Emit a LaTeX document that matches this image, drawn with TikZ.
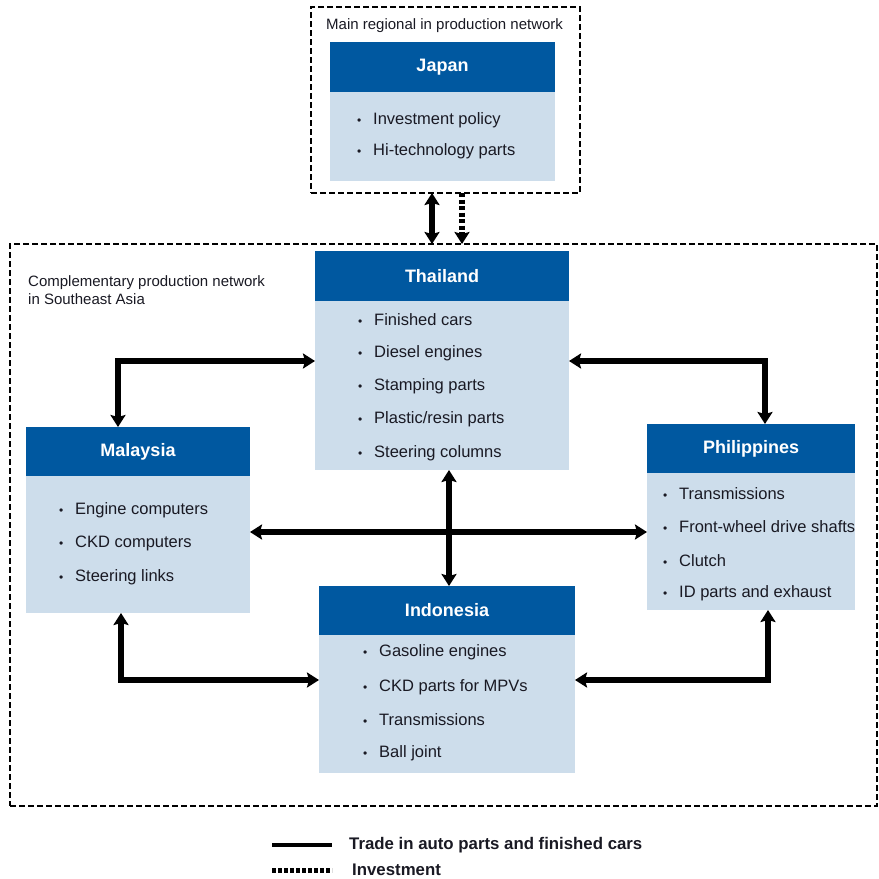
\documentclass[tikz,border=0pt]{standalone}
\usepackage{fontspec}
\setmainfont{Liberation Sans}
\usetikzlibrary{arrows.meta}
\definecolor{hdrblue}{RGB}{0,88,160}
\definecolor{bodyblue}{RGB}{205,221,235}
\definecolor{inktext}{RGB}{25,25,35}
\newcommand\itembul{{\fontsize{12}{12}\selectfont\textbullet}}
\newcommand\itm[1]{\makebox[16pt][l]{\itembul}#1}
\begin{document}
\begin{tikzpicture}[x=1pt,y=-1pt,
  hdrbox/.style={fill=hdrblue, text=white, font=\bfseries\fontsize{18}{20}\selectfont,
    inner sep=0pt, outer sep=0pt, anchor=north west},
  bodybox/.style={fill=bodyblue, inner sep=0pt, outer sep=0pt, anchor=north west},
  itemtext/.style={anchor=west, inner sep=0pt, text=inktext, font=\fontsize{16.5}{18}\selectfont},
  regionbox/.style={draw=black, line width=1.2pt, dash pattern=on 6pt off 3pt,
    inner sep=0pt, outer sep=0pt, anchor=north west},
  regionlabel/.style={anchor=west, inner sep=0pt, text=inktext, font=\fontsize{15}{18}\selectfont, align=left},
  trade/.style={line width=5.5pt,
    {Stealth[length=12pt,width=15pt,inset=2pt]}-{Stealth[length=12pt,width=15pt,inset=2pt]}},
  invest/.style={line width=5.5pt, dash pattern=on 4pt off 2.5pt,
    -{Stealth[length=12pt,width=15pt,inset=2pt]}},
  legendtext/.style={anchor=west, inner sep=0pt, text=inktext, font=\bfseries\fontsize{16.8}{18}\selectfont}
]
\useasboundingbox (0,0) rectangle (879,879);

% outer region frames
\node[regionbox, minimum width=269pt, minimum height=186pt] (jpOuter) at (311,7) {};
\node[regionbox, minimum width=867pt, minimum height=562pt] (seOuter) at (10,244) {};
\node[regionlabel] (jpLabel) at (326,26) {Main regional in production network};
\node[regionlabel] (seLabel) at (28,290) {Complementary production network\\in Southeast Asia};

% Japan
\node[hdrbox, minimum width=225pt, minimum height=50pt] (jpH) at (330,42) {Japan};
\node[bodybox, minimum width=225pt, minimum height=89pt] (jpB) at (jpH.south west) {};
\node[itemtext] (jp1) at (357,120.5) {\itm{Investment policy}};
\node[itemtext] (jp2) at (357,151.5) {\itm{Hi-technology parts}};

% Thailand
\node[hdrbox, minimum width=254pt, minimum height=50pt] (thH) at (315,251) {Thailand};
\node[bodybox, minimum width=254pt, minimum height=169pt] (thB) at (thH.south west) {};
\node[itemtext] (th1) at (358,319.5) {\itm{Finished cars}};
\node[itemtext] (th2) at (358,353.5) {\itm{Diesel engines}};
\node[itemtext] (th3) at (358,386.5) {\itm{Stamping parts}};
\node[itemtext] (th4) at (358,419.5) {\itm{Plastic/resin parts}};
\node[itemtext] (th5) at (358,453.5) {\itm{Steering columns}};

% Malaysia
\node[hdrbox, minimum width=224pt, minimum height=49pt] (myH) at (26,427) {Malaysia};
\node[bodybox, minimum width=224pt, minimum height=137pt] (myB) at (myH.south west) {};
\node[itemtext] (my1) at (59,510.5) {\itm{Engine computers}};
\node[itemtext] (my2) at (59,543.5) {\itm{CKD computers}};
\node[itemtext] (my3) at (59,577.5) {\itm{Steering links}};

% Philippines
\node[hdrbox, minimum width=208pt, minimum height=49pt] (phH) at (647,424) {Philippines};
\node[bodybox, minimum width=208pt, minimum height=137pt] (phB) at (phH.south west) {};
\node[itemtext] (ph1) at (663,493.5) {\itm{Transmissions}};
\node[itemtext] (ph2) at (663,526.5) {\itm{Front-wheel drive shafts}};
\node[itemtext] (ph3) at (663,560.5) {\itm{Clutch}};
\node[itemtext] (ph4) at (663,593.5) {\itm{ID parts and exhaust}};

% Indonesia
\node[hdrbox, minimum width=256pt, minimum height=49pt] (idH) at (319,586) {Indonesia};
\node[bodybox, minimum width=256pt, minimum height=138pt] (idB) at (idH.south west) {};
\node[itemtext] (id1) at (363,652.5) {\itm{Gasoline engines}};
\node[itemtext] (id2) at (363,687.5) {\itm{CKD parts for MPVs}};
\node[itemtext] (id3) at (363,719.5) {\itm{Transmissions}};
\node[itemtext] (id4) at (363,753.5) {\itm{Ball joint}};

% guide coordinates for the connector routes
\coordinate (jpTradeX) at (432,0);
\coordinate (jpInvX) at (462,0);
\coordinate (myX) at (118,0);
\coordinate (phX) at (765,0);
\coordinate (upperY) at (0,361);
\coordinate (lowerY) at (0,680);
\coordinate (midY) at (0,532);
\coordinate (midX) at (449,0);
\coordinate (myLowX) at (121,0);
\coordinate (phLowX) at (768,0);

% Japan <-> Southeast Asia
\draw[trade] (jpOuter.south -| jpTradeX) -- (seOuter.north -| jpTradeX);
\draw[invest] (jpOuter.south -| jpInvX) -- (seOuter.north -| jpInvX);

% trade links
\draw[trade] (myH.north -| myX) |- (thB.west |- upperY);
\draw[trade] (phH.north -| phX) |- (thB.east |- upperY);
\draw[trade] (myB.south -| myLowX) |- (idB.west |- lowerY);
\draw[trade] (phB.south -| phLowX) |- (idB.east |- lowerY);
\draw[trade] (myB.east |- midY) -- (phB.west |- midY);
\draw[trade] (thB.south -| midX) -- (idH.north -| midX);

% legend
\coordinate (lgA1) at (272,845);
\coordinate (lgA2) at (332,845);
\coordinate (lgB1) at (272,870);
\coordinate (lgB2) at (332,870);
\draw[line width=4pt] (lgA1) -- (lgA2);
\draw[line width=5pt, dash pattern=on 4pt off 2pt] (lgB1) -- (lgB2);
\node[legendtext] (lgTrade) at (349,845) {Trade in auto parts and finished cars};
\node[legendtext] (lgInvest) at (352,870) {Investment};
\end{tikzpicture}
\end{document}
